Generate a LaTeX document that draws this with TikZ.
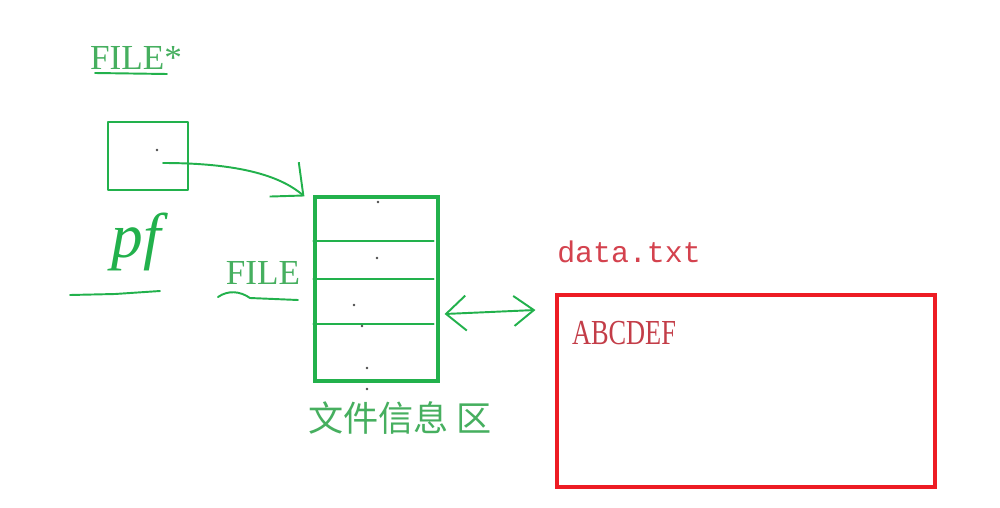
\documentclass[tikz,border=0pt]{standalone}
\usepackage{fontspec}
\setmainfont{Liberation Serif}
\newfontfamily\cjk{Noto Sans CJK SC}
\newfontfamily\narrowserif[FakeStretch=0.75]{Liberation Serif}
\newfontfamily\monofont{Liberation Mono}
\usepackage{tikz}
\usetikzlibrary{arrows.meta,positioning,calc}
\definecolor{pen}{RGB}{34,177,76}
\definecolor{pentext}{RGB}{70,175,95}
\definecolor{redpen}{RGB}{237,28,36}
\definecolor{redtext}{RGB}{212,66,78}

\begin{document}
\begin{tikzpicture}[x=0.02cm,y=-0.02cm,
    every node/.style={inner sep=0pt},
    ink/.style={draw=pen,line width=1.1pt,line cap=round,line join=round},
    box/.style={draw=pen,line width=1.8pt,minimum width=2.46cm,minimum height=3.68cm},
    redbox/.style={draw=redpen,line width=1.8pt,minimum width=7.56cm,minimum height=3.84cm},
    gtext/.style={text=pentext,font=\fontsize{20}{20}\selectfont},
    barb/.style={-{Straight Barb[length=0.5cm,width=0.9cm]}},
    speck/.style={fill=black!70,circle,minimum size=1.6pt}
]
\fill[white] (0,0) rectangle (1000,507);
\useasboundingbox (0,0) rectangle (1000,507);

% pointer variable
\node[gtext] (ptrtype) at (136,58) {FILE*};
\draw[ink] (95,73) -- (167,74);
\node[ink,minimum width=1.6cm,minimum height=1.36cm] (pf) at (148,156) {};
\node[speck] at (157,150) {};
\node[text=pen,font=\fontsize{36}{36}\selectfont\itshape] (pfname) at (136,242) {pf};
\draw[ink] (70,295) -- (115,294) -- (160,291);

% file info block
\node[gtext] (type) at (263,273) {FILE};
\draw[ink] (218,297) .. controls (228,290) and (240,291) .. (250,298) -- (298,300);
\node[box] (info) at (376.5,289) {};
\foreach \y in {241,279,324}
    \draw[ink,line width=1.3pt] (info.west |- 0,\y) -- ($(info.east |- 0,\y)+(-6,0)$);
\foreach \p in {(378,202),(377,258),(354,305),(362,326),(367,368),(367,389)}
    \node[speck] at \p {};
\node[text=pentext,font=\cjk\fontsize{20}{20}\selectfont] (infolabel) at (400,418) {文件信息 区};

\draw[ink,barb] ($(pf.center)+(15,7)$) .. controls (250,163) and (285,180) .. ($(info.north west)+(-9,1)$);

% the file on disk
\node[redbox] (file) at (746,391) {};
\node[text=redtext,font=\monofont\fontsize{17}{17}\selectfont] (fname) at (629,252) {data.txt};
\node[text=redtext!92!black,font=\narrowserif\fontsize{20}{20}\selectfont] (content) at (624,333) {ABCDEF};

\draw[ink,{Straight Barb[length=0.4cm,width=0.7cm]}-{Straight Barb[length=0.4cm,width=0.6cm]}]
    ($(info.east |- 0,314)+(5,0)$) -- ($(file.west |- 0,310)+(-20,0)$);
\end{tikzpicture}
\end{document}
